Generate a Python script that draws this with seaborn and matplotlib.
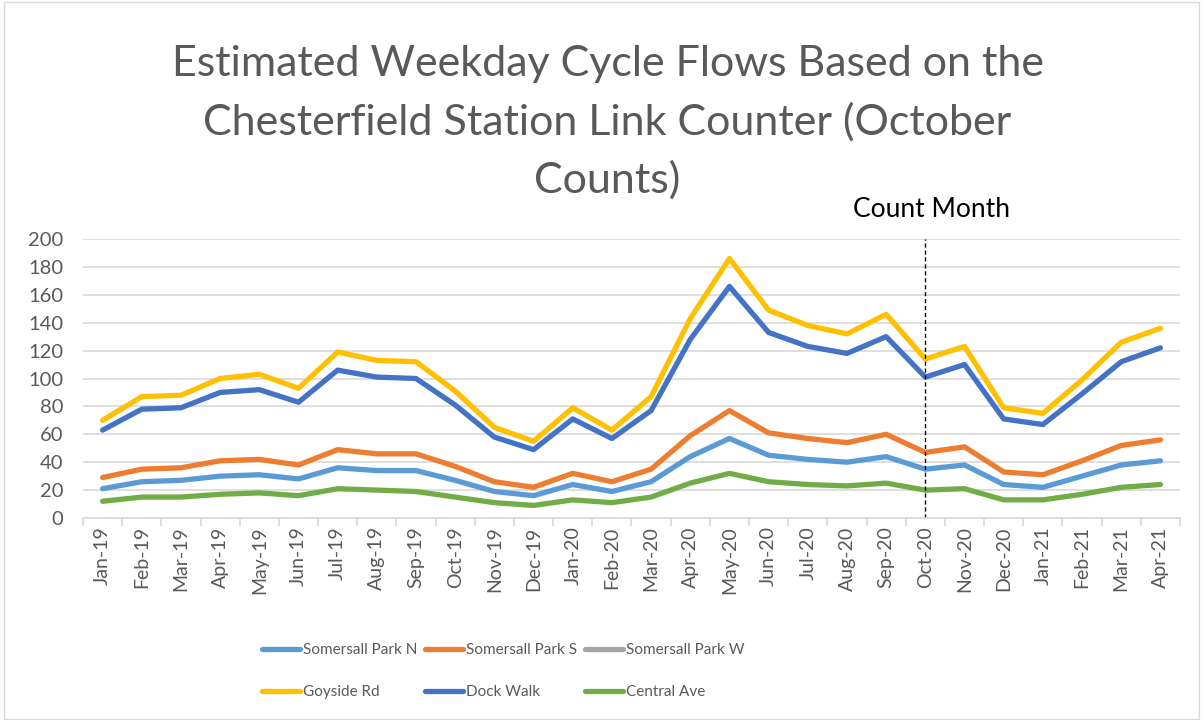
import numpy as np
import pandas as pd
import matplotlib
matplotlib.use("Agg")
import matplotlib.pyplot as plt
from matplotlib.lines import Line2D
from matplotlib.patches import Rectangle
import seaborn as sns

months = ["Jan-19", "Feb-19", "Mar-19", "Apr-19", "May-19", "Jun-19", "Jul-19",
          "Aug-19", "Sep-19", "Oct-19", "Nov-19", "Dec-19", "Jan-20", "Feb-20",
          "Mar-20", "Apr-20", "May-20", "Jun-20", "Jul-20", "Aug-20", "Sep-20",
          "Oct-20", "Nov-20", "Dec-20", "Jan-21", "Feb-21", "Mar-21", "Apr-21"]

somersall_n = [21, 26, 27, 30, 31, 28, 36, 34, 34, 27, 19, 16, 24, 19,
               26, 44, 57, 45, 42, 40, 44, 35, 38, 24, 22, 30, 38, 41]
somersall_s = [29, 35, 36, 41, 42, 38, 49, 46, 46, 37, 26, 22, 32, 26,
               35, 59, 77, 61, 57, 54, 60, 47, 51, 33, 31, 41, 52, 56]
somersall_w = [np.nan] * 28
goyside = [70, 87, 88, 100, 103, 93, 119, 113, 112, 91, 65, 55, 79, 63,
           87, 143, 186, 149, 138, 132, 146, 114, 123, 79, 75, 99, 126, 136]
dock_walk = [63, 78, 79, 90, 92, 83, 106, 101, 100, 81, 58, 49, 71, 57,
             77, 128, 166, 133, 123, 118, 130, 101, 110, 71, 67, 89, 112, 122]
central_ave = [12, 15, 15, 17, 18, 16, 21, 20, 19, 15, 11, 9, 13, 11,
               15, 25, 32, 26, 24, 23, 25, 20, 21, 13, 13, 17, 22, 24]

series = {
    "Somersall Park N": somersall_n,
    "Somersall Park S": somersall_s,
    "Somersall Park W": somersall_w,
    "Goyside Rd": goyside,
    "Dock Walk": dock_walk,
    "Central Ave": central_ave,
}
colors = {
    "Somersall Park N": "#5B9BD5",
    "Somersall Park S": "#ED7D31",
    "Somersall Park W": "#A5A5A5",
    "Goyside Rd": "#FFC000",
    "Dock Walk": "#4472C4",
    "Central Ave": "#70AD47",
}
count_month = "Oct-20"
title_lines = ["Estimated Weekday Cycle Flows Based on the",
               "Chesterfield Station Link Counter (October",
               "Counts)"]

rows = []
for name, vals in series.items():
    for i, (m, v) in enumerate(zip(months, vals)):
        rows.append({"idx": i, "month": m, "site": name, "flow": v})
df = pd.DataFrame(rows).dropna()

sns.set_theme(style="white")
plt.rcParams["font.family"] = ["Lato", "DejaVu Sans"]
grey = "#595959"

fig = plt.figure(figsize=(12.03, 7.2), dpi=100)
fig.patches.append(Rectangle((0.003, 0.002), 0.994, 0.995, transform=fig.transFigure,
                             fill=False, edgecolor="#d9d9d9", linewidth=1.0))
ax = fig.add_axes([83 / 1203, 1 - 518 / 720, 1097 / 1203, 279 / 720])

sns.lineplot(data=df, x="idx", y="flow", hue="site", hue_order=list(series.keys()),
             palette=colors, linewidth=3.8, legend=False, ax=ax,
             solid_capstyle="round", solid_joinstyle="round")

ax.set_xlim(-0.5, len(months) - 0.5)
ax.set_ylim(0, 200)
ax.set_yticks(range(0, 201, 20))
ax.yaxis.grid(True, color="#d9d9d9", linewidth=1.2)
ax.set_axisbelow(True)
for s in ["top", "right", "left"]:
    ax.spines[s].set_visible(False)
ax.spines["bottom"].set_color("#d9d9d9")
ax.spines["bottom"].set_linewidth(1.2)
ax.set_xlabel("")
ax.set_ylabel("")

ax.set_xticks(range(len(months)))
ax.set_xticklabels(months, rotation=90, fontsize=14, color=grey)
ax.tick_params(axis="x", length=0, pad=6)
ax.set_xticks(np.arange(-0.5, len(months), 1.0), minor=True)
ax.tick_params(axis="x", which="minor", length=6, width=1.2, color="#d9d9d9", bottom=True)
ax.tick_params(axis="y", length=0, labelsize=14.5, labelcolor=grey, pad=14)

cm_x = months.index(count_month)
ax.axvline(cm_x, color="black", linestyle=(0, (3, 2)), linewidth=1.0)
ax.text(cm_x + 0.15, 1.062, "Count Month", transform=ax.get_xaxis_transform(),
        ha="center", va="bottom", fontsize=19, color="black")

# three-line title, each line centred on its own
for line, ypx in zip(title_lines, [64, 122, 180]):
    fig.text(0.505, 1 - ypx / 720, line, ha="center", va="center",
             fontsize=31, color=grey)

names = list(series.keys())
order = [0, 3, 1, 4, 2, 5]
handles = [Line2D([], [], color=colors[names[i]], linewidth=3.8, solid_capstyle="round")
           for i in order]
labels = [names[i] for i in order]
legend_size = 11
em = legend_size * 100 / 72
fig.legend(handles, labels, ncol=3, loc="center left", bbox_to_anchor=(0.206, 0.068),
           frameon=False, fontsize=legend_size, labelcolor=grey, handlelength=38 / em,
           handletextpad=3 / em, columnspacing=8 / em, labelspacing=28 / em,
           borderpad=0.4)

fig.savefig("out.png", dpi=100)
